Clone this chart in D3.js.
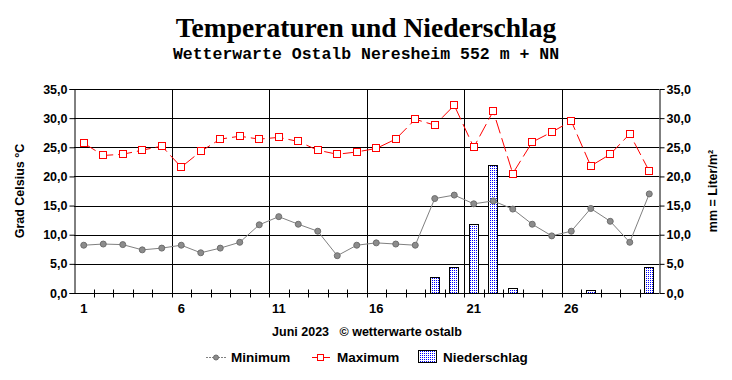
<!DOCTYPE html>
<html>
<head>
<meta charset="utf-8">
<script src="https://d3js.org/d3.v7.min.js"></script>
<style>
  body { margin: 0; background: #fff; }
  text { font-family: "Liberation Sans", Arial, sans-serif; font-weight: bold; }
</style>
</head>
<body>
<svg width="732" height="380"></svg>
<script>
// Juni 2023, Tageswerte
var days = d3.range(1, 31);
var tMin = [8.2, 8.4, 8.3, 7.4, 7.7, 8.2, 6.9, 7.7, 8.7, 11.7,
            13.1, 11.8, 10.6, 6.4, 8.2, 8.6, 8.4, 8.2, 16.2, 16.8,
            15.3, 15.8, 14.4, 11.8, 9.8, 10.6, 14.5, 12.3, 8.7, 17.0];
var tMax = [25.7, 23.6, 23.8, 24.5, 25.2, 21.6, 24.3, 26.4, 26.9, 26.4,
            26.7, 26.0, 24.5, 23.8, 24.2, 24.8, 26.4, 29.8, 28.8, 32.2,
            25.0, 31.2, 20.5, 25.9, 27.6, 29.5, 21.8, 23.8, 27.3, 20.9];
var rain = [0, 0, 0, 0, 0, 0, 0, 0, 0, 0,
            0, 0, 0, 0, 0, 0, 0, 0, 2.7, 4.4,
            11.8, 21.9, 0.8, 0, 0, 0, 0.5, 0, 0, 4.4];
var yTicks = [0, 5, 10, 15, 20, 25, 30, 35];
var xLabels = [1, 6, 11, 16, 21, 26];

var svg = d3.select("svg");
var pLeft = 74, pRight = 659, pTop = 89, pBottom = 293;

var x = d3.scaleBand().domain(days).range([pLeft, pRight]);
var y = d3.scaleLinear().domain([0, 35]).range([pBottom, pTop]);
var fmt = function(d) { return d3.format(".1f")(d).replace(".", ","); };
var cx = function(d) { return x(d) + x.bandwidth() / 2; };

// pattern for the bars
var pat = svg.append("defs").append("pattern")
    .attr("id", "dots")
    .attr("width", 2).attr("height", 2)
    .attr("patternUnits", "userSpaceOnUse");
pat.append("rect").attr("width", 2).attr("height", 2).attr("fill", "#fff");
pat.append("rect").attr("width", 1).attr("height", 1).attr("fill", "#0000ff");

// titles
svg.append("text")
    .attr("x", 366).attr("y", 37)
    .attr("text-anchor", "middle")
    .style("font-family", "'Liberation Serif', 'Times New Roman', serif")
    .style("font-size", "27.5px")
    .text("Temperaturen und Niederschlag");
svg.append("text")
    .attr("x", 366).attr("y", 59)
    .attr("text-anchor", "middle")
    .style("font-family", "'Liberation Mono', 'Courier New', monospace")
    .style("font-size", "16.5px")
    .text("Wetterwarte Ostalb Neresheim 552 m + NN");

// grid
svg.append("g").selectAll("line")
    .data(yTicks.filter(function(d) { return d > 0; }))
    .enter().append("line")
    .attr("x1", pLeft).attr("x2", pRight)
    .attr("y1", function(d) { return Math.round(y(d)) + 0.5; })
    .attr("y2", function(d) { return Math.round(y(d)) + 0.5; })
    .attr("stroke", "#000");
svg.append("g").selectAll("line")
    .data(xLabels.slice(1))
    .enter().append("line")
    .attr("x1", function(d) { return Math.round(x(d)) + 0.5; })
    .attr("x2", function(d) { return Math.round(x(d)) + 0.5; })
    .attr("y1", pTop).attr("y2", pBottom)
    .attr("stroke", "#000");

// left and right axes
var yl = svg.append("g")
    .attr("transform", "translate(" + (pLeft + 0.5) + ",0)")
    .call(d3.axisLeft(y).tickValues(yTicks).tickFormat(fmt).tickSize(5).tickPadding(2));
var yr = svg.append("g")
    .attr("transform", "translate(" + (pRight + 0.5) + ",0)")
    .call(d3.axisRight(y).tickValues(yTicks).tickFormat(fmt).tickSize(5).tickPadding(2));
[yl, yr].forEach(function(g) {
  g.select(".domain").attr("stroke", "#000");
  g.selectAll("text").style("font-size", "12.5px").attr("fill", "#000")
    .style("font-family", "'Liberation Sans', Arial, sans-serif").style("font-weight", "bold");
});

// bottom axis
var xb = svg.append("g").attr("transform", "translate(0," + (pBottom + 0.5) + ")");
xb.append("line").attr("x1", pLeft).attr("x2", pRight).attr("stroke", "#000");
xb.selectAll(".tk")
    .data(days.slice(1))
    .enter().append("line")
    .attr("class", "tk")
    .attr("x1", function(d) { return Math.round(x(d)) + 0.5; })
    .attr("x2", function(d) { return Math.round(x(d)) + 0.5; })
    .attr("y1", -4).attr("y2", 4)
    .attr("stroke", "#000");
xb.selectAll(".lb")
    .data(xLabels)
    .enter().append("text")
    .attr("class", "lb")
    .attr("x", cx)
    .attr("y", 19)
    .attr("text-anchor", "middle")
    .style("font-size", "13px")
    .text(function(d) { return d; });

// bars
svg.append("g").selectAll("rect")
    .data(days.filter(function(d, i) { return rain[i] > 0; }))
    .enter().append("rect")
    .attr("x", function(d) { return Math.round(cx(d) - 5) + 0.5; })
    .attr("width", 9)
    .attr("y", function(d) { return Math.round(y(rain[d - 1])) + 0.5; })
    .attr("height", function(d) { return Math.max(0, pBottom - Math.round(y(rain[d - 1]))); })
    .attr("fill", "url(#dots)")
    .attr("stroke", "#000");

// minimum line
svg.append("path")
    .datum(days)
    .attr("fill", "none")
    .attr("stroke", "#808080")
    .attr("d", d3.line().x(cx).y(function(d) { return y(tMin[d - 1]); }));
svg.append("g").selectAll("circle")
    .data(days).enter().append("circle")
    .attr("cx", cx)
    .attr("cy", function(d) { return y(tMin[d - 1]); })
    .attr("r", 3)
    .attr("fill", "#8c8c8c")
    .attr("stroke", "#6e6e6e");

// maximum line
svg.append("path")
    .datum(days)
    .attr("fill", "none")
    .attr("stroke", "#ff0000")
    .attr("stroke-dasharray", "14,5")
    .attr("d", d3.line().x(cx).y(function(d) { return y(tMax[d - 1]); }));
svg.append("g").selectAll("rect")
    .data(days).enter().append("rect")
    .attr("x", function(d) { return Math.round(cx(d)) - 3.5; })
    .attr("y", function(d) { return Math.round(y(tMax[d - 1])) - 3.5; })
    .attr("width", 7).attr("height", 7)
    .attr("fill", "#fff")
    .attr("stroke", "#ff0000");

// axis titles
svg.append("text")
    .attr("transform", "translate(24,191) rotate(-90)")
    .attr("text-anchor", "middle")
    .style("font-size", "12.5px")
    .text("Grad Celsius °C");
svg.append("text")
    .attr("transform", "translate(717,191) rotate(-90)")
    .attr("text-anchor", "middle")
    .style("font-size", "12.5px")
    .text("mm = Liter/m²");

svg.append("text")
    .attr("x", 367).attr("y", 336)
    .attr("text-anchor", "middle")
    .style("font-size", "12.5px")
    .style("white-space", "pre")
    .text("Juni 2023   © wetterwarte ostalb");

// legend
var lg = svg.append("g").attr("transform", "translate(0,357)");
lg.append("line").attr("x1", 206).attr("x2", 226).attr("y1", 0.5).attr("y2", 0.5)
    .attr("stroke", "#808080").attr("stroke-dasharray", "2,1");
lg.append("circle").attr("cx", 216).attr("cy", 0.5).attr("r", 2.5)
    .attr("fill", "#8c8c8c").attr("stroke", "#6e6e6e");
lg.append("text").attr("x", 231).attr("y", 5).style("font-size", "13.5px").text("Minimum");
lg.append("line").attr("x1", 312).attr("x2", 330).attr("y1", 0.5).attr("y2", 0.5)
    .attr("stroke", "#ff0000");
lg.append("rect").attr("x", 317.5).attr("y", -2.5).attr("width", 6).attr("height", 6)
    .attr("fill", "#fff").attr("stroke", "#ff0000");
lg.append("text").attr("x", 337).attr("y", 5).style("font-size", "13.5px").text("Maximum");
lg.append("rect").attr("x", 418.5).attr("y", -6.5).attr("width", 18).attr("height", 12)
    .attr("fill", "url(#dots)").attr("stroke", "#000");
lg.append("text").attr("x", 443).attr("y", 5).style("font-size", "13.5px").text("Niederschlag");
</script>
</body>
</html>
